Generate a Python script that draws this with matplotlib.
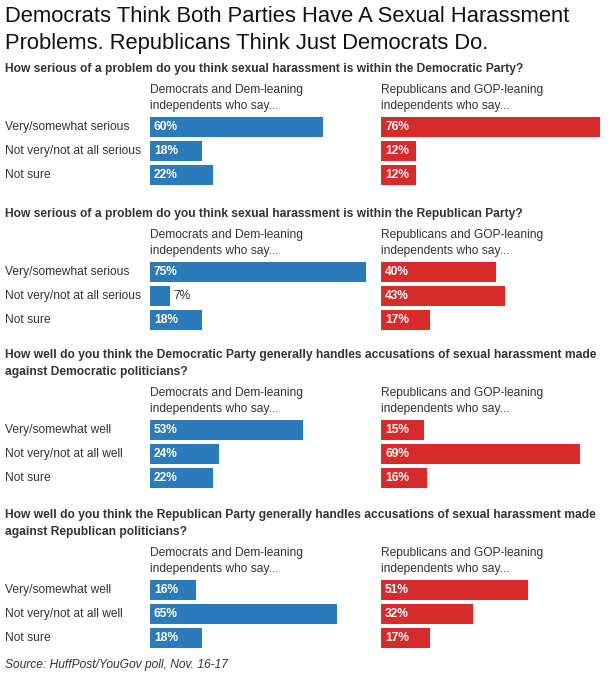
import matplotlib
matplotlib.use("Agg")
import matplotlib.pyplot as plt
import matplotlib.transforms as mtransforms

# ---------------- data ----------------
title_lines = ["Democrats Think Both Parties Have A Sexual Harassment",
               "Problems. Republicans Think Just Democrats Do."]
questions = [
    ["How serious of a problem do you think sexual harassment is within the Democratic Party?"],
    ["How serious of a problem do you think sexual harassment is within the Republican Party?"],
    ["How well do you think the Democratic Party generally handles accusations of sexual harassment made",
     "against Democratic politicians?"],
    ["How well do you think the Republican Party generally handles accusations of sexual harassment made",
     "against Republican politicians?"],
]
row_labels = [
    ["Very/somewhat serious", "Not very/not at all serious", "Not sure"],
    ["Very/somewhat serious", "Not very/not at all serious", "Not sure"],
    ["Very/somewhat well", "Not very/not at all well", "Not sure"],
    ["Very/somewhat well", "Not very/not at all well", "Not sure"],
]
dem_values = [[60, 18, 22], [75, 7, 18], [53, 24, 22], [16, 65, 18]]
rep_values = [[76, 12, 12], [40, 43, 17], [15, 69, 16], [51, 32, 17]]
dem_header = ["Democrats and Dem-leaning", "independents who say..."]
rep_header = ["Republicans and GOP-leaning", "independents who say..."]
source = "Source: HuffPost/YouGov poll, Nov. 16-17"

# ---------------- style / layout ----------------
W, H = 610, 676
BLUE = "#2b7bba"
RED = "#d62a2b"
TXT = "#333333"
FONT = "Liberation Sans"
PX = 0.72  # pt per px at dpi 100

plt.rcParams["font.family"] = [FONT, "DejaVu Sans"]

fig = plt.figure(figsize=(W / 100, H / 100), dpi=100)
fig.patch.set_facecolor("white")


def fx(x):
    return x / W


def fy(y):
    return 1 - y / H


# Title
title_y = [16, 43]
for t, y in zip(title_lines, title_y):
    fig.text(fx(5), fy(y), t, fontsize=22 * PX, color="#111111",
             ha="left", va="center")

row1_y = [127, 272, 430, 590]
q_gap = 21          # from last question line to header line 1
q_line = 17         # question line spacing
hdr_off1 = 37
hdr_off2 = 21
row_step = 24
bar_px = 20
px_per_pct = 2.88
blue_left = 150
red_left = 381
xmax = 76.5

for si in range(4):
    r1 = row1_y[si]
    h1 = r1 - hdr_off1
    h2 = r1 - hdr_off2
    qlines = questions[si]
    q_last = h1 - q_gap
    for k, line in enumerate(qlines):
        qy = q_last - (len(qlines) - 1 - k) * q_line
        fig.text(fx(5), fy(qy), line, fontsize=12.0 * PX, fontweight="bold",
                 color=TXT, ha="left", va="center")
    # headers
    for left, hdr in ((blue_left, dem_header), (red_left, rep_header)):
        fig.text(fx(left), fy(h1), hdr[0], fontsize=12 * PX, color=TXT,
                 ha="left", va="center")
        fig.text(fx(left), fy(h2), hdr[1], fontsize=12 * PX, color=TXT,
                 ha="left", va="center")

    top = r1 - row_step / 2
    height = 3 * row_step
    for left, vals, col in ((blue_left, dem_values[si], BLUE),
                            (red_left, rep_values[si], RED)):
        ax = fig.add_axes([fx(left), fy(top + height), xmax * px_per_pct / W, height / H])
        ax.set_xlim(0, xmax)
        ax.set_ylim(2.5, -0.5)
        ys = list(range(len(vals)))
        ax.barh(ys, vals, height=bar_px / row_step, color=col, left=0)
        ax.axis("off")
        for yv, v in zip(ys, vals):
            if v >= 10:
                ax.text(4 / px_per_pct, yv, f"{v}%", color="white", fontweight="bold",
                        fontsize=12 * PX, ha="left", va="center")
            else:
                ax.text(v + 3 / px_per_pct, yv, f"{v}%", color=TXT,
                        fontsize=12 * PX, ha="left", va="center")
        if left == blue_left:
            trans = mtransforms.blended_transform_factory(fig.transFigure, ax.transData)
            for yv, lab in zip(ys, row_labels[si]):
                ax.text(fx(5), yv, lab, transform=trans, fontsize=12 * PX,
                        color=TXT, ha="left", va="center", clip_on=False)

fig.text(fx(5), fy(665), source, fontsize=12 * PX, style="italic", color=TXT,
         ha="left", va="center")

fig.savefig("out.png", dpi=100, facecolor="white")
